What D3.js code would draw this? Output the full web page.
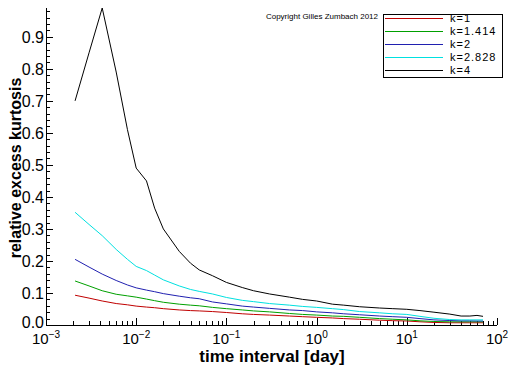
<!DOCTYPE html>
<html>
<head>
<meta charset="utf-8">
<script src="https://cdn.jsdelivr.net/npm/d3@7"></script>
<style>
  body { margin: 0; background: #fff; }
  svg { display: block; font-family: "Liberation Sans", Arial, sans-serif; }
</style>
</head>
<body>
<svg id="chart" width="512" height="366"></svg>
<script>
// time interval in days
const timeDays = [0.0021, 0.003, 0.0042, 0.006, 0.008, 0.01, 0.013, 0.016, 0.02, 0.03, 0.04, 0.05, 0.07,
  0.1, 0.15, 0.2, 0.3, 0.5, 0.7, 1, 1.5, 2, 3, 5, 7, 10, 14, 20, 30, 40, 50, 60, 70];

const k1 = [0.093, 0.084, 0.075, 0.067, 0.063, 0.059, 0.056, 0.054, 0.051, 0.047, 0.045, 0.044, 0.042,
  0.039, 0.035, 0.033, 0.031, 0.028, 0.026, 0.024, 0.022, 0.020, 0.018, 0.015, 0.0135, 0.0125, 0.010, 0.008, 0.007, 0.007, 0.007, 0.007, 0.007];
const k1414 = [0.1375, 0.122, 0.107, 0.096, 0.091, 0.087, 0.081, 0.076, 0.071, 0.065, 0.062, 0.060, 0.055,
  0.051, 0.047, 0.044, 0.041, 0.036, 0.033, 0.031, 0.028, 0.027, 0.024, 0.020, 0.018, 0.016, 0.013, 0.011, 0.010, 0.010, 0.010, 0.010, 0.010];
const k2 = [0.205, 0.181, 0.159, 0.139, 0.125, 0.116, 0.109, 0.104, 0.098, 0.090, 0.085, 0.082, 0.072,
  0.066, 0.059, 0.056, 0.052, 0.047, 0.045, 0.041, 0.038, 0.035, 0.032, 0.028, 0.026, 0.024, 0.020, 0.016, 0.014, 0.013, 0.013, 0.0125, 0.0125];
const k2828 = [0.352, 0.314, 0.279, 0.236, 0.205, 0.183, 0.170, 0.156, 0.141, 0.122, 0.111, 0.105, 0.097,
  0.086, 0.077, 0.073, 0.067, 0.062, 0.058, 0.055, 0.051, 0.048, 0.042, 0.038, 0.035, 0.033, 0.027, 0.021, 0.017, 0.016, 0.016, 0.016, 0.016];
const k4 = [0.70, 0.85, 0.99, 0.79, 0.61, 0.49, 0.45, 0.365, 0.30, 0.23, 0.193, 0.172, 0.154,
  0.133, 0.117, 0.107, 0.097, 0.087, 0.080, 0.075, 0.065, 0.062, 0.057, 0.053, 0.051, 0.049, 0.045, 0.040, 0.034, 0.028, 0.028, 0.030, 0.027];

const seriesNames = ["k=1", "k=1.414", "k=2", "k=2.828", "k=4"];
const seriesValues = [k1, k1414, k2, k2828, k4];
const seriesColors = ["#c00000", "#00a000", "#2020b0", "#00e0e0", "#000000"];

const yTicks = [0, 0.1, 0.2, 0.3, 0.4, 0.5, 0.6, 0.7, 0.8, 0.9];
const xDecades = [-3, -2, -1, 0, 1, 2];

const svg = d3.select("#chart");

const x = d3.scaleLog().domain([1e-3, 1e2]).range([46, 497]);
const y = d3.scaleLinear().domain([0, 0.99]).range([325, 8]);

// axis lines
svg.append("line").attr("x1", x.range()[0]).attr("x2", x.range()[1])
  .attr("y1", y(0) + 0.5).attr("y2", y(0) + 0.5).attr("stroke", "#000");
svg.append("line").attr("x1", x.range()[0] + 0.5).attr("x2", x.range()[0] + 0.5)
  .attr("y1", y.range()[0]).attr("y2", y.range()[1]).attr("stroke", "#000");

// y ticks (inward), minors every 0.02
const yMinor = d3.range(0, 0.99, 0.02);
svg.append("g").selectAll("line").data(yMinor).join("line")
  .attr("x1", x.range()[0])
  .attr("x2", (d, i) => x.range()[0] + (i % 5 === 0 ? 7 : 4))
  .attr("y1", (d) => Math.round(y(d)) + 0.5)
  .attr("y2", (d) => Math.round(y(d)) + 0.5)
  .attr("stroke", "#000");

svg.append("g").selectAll("text").data(yTicks).join("text")
  .attr("x", 44).attr("y", (d) => y(d))
  .attr("dy", (d) => (d === 0 ? "0.2em" : "0.36em"))
  .attr("text-anchor", "end")
  .attr("font-size", 16)
  .text((d) => d.toFixed(1));

// x ticks (inward), log minors
const xMinor = [];
xDecades.forEach((e) => {
  if (e === 2) { xMinor.push({ v: 100, major: true }); return; }
  for (let m = 1; m < 10; m++) xMinor.push({ v: m * Math.pow(10, e), major: m === 1 });
});
svg.append("g").selectAll("line").data(xMinor).join("line")
  .attr("x1", (d) => Math.round(x(d.v)) + 0.5)
  .attr("x2", (d) => Math.round(x(d.v)) + 0.5)
  .attr("y1", y(0))
  .attr("y2", (d) => y(0) - (d.major ? 7 : 4))
  .attr("stroke", "#000");

const xLab = svg.append("g").selectAll("text").data(xDecades).join("text")
  .attr("x", (d) => x(Math.pow(10, d)))
  .attr("y", 344)
  .attr("text-anchor", "middle")
  .attr("font-size", 15);
xLab.append("tspan").text("10");
xLab.append("tspan").attr("dy", -6).attr("font-size", 10)
  .text((d) => (d < 0 ? "\u2212" + Math.abs(d) : String(d)));

// axis titles
svg.append("text")
  .attr("x", 272).attr("y", 362)
  .attr("text-anchor", "middle")
  .attr("font-size", 17).attr("font-weight", "bold")
  .text("time interval [day]");

svg.append("text")
  .attr("transform", "translate(21,168) rotate(-90)")
  .attr("text-anchor", "middle")
  .attr("font-size", 16).attr("font-weight", "bold")
  .text("relative excess kurtosis");

// series
const line = d3.line()
  .x((d) => x(d[0]))
  .y((d) => y(d[1]));

svg.append("g").selectAll("path").data(seriesValues).join("path")
  .attr("d", (vals) => line(vals.map((v, i) => [timeDays[i], v])))
  .attr("fill", "none")
  .attr("stroke", (d, i) => seriesColors[i])
  .attr("stroke-width", 1);

// copyright
svg.append("text")
  .attr("x", 378).attr("y", 19)
  .attr("text-anchor", "end")
  .attr("font-size", 8)
  .text("Copyright Gilles Zumbach 2012");

// legend
const legend = svg.append("g");
legend.append("rect")
  .attr("x", 383.5).attr("y", 14.5).attr("width", 119).attr("height", 63)
  .attr("fill", "#fff").attr("stroke", "#000");
const row = legend.selectAll("g").data(seriesNames).join("g")
  .attr("transform", (d, i) => "translate(0," + (18.5 + i * 13) + ")");
row.append("line")
  .attr("x1", 385).attr("x2", 443)
  .attr("stroke", (d, i) => seriesColors[i]);
row.append("text")
  .attr("x", 450).attr("dy", "0.36em")
  .attr("font-size", 11)
  .attr("letter-spacing", 1)
  .text((d) => d);
</script>
</body>
</html>
